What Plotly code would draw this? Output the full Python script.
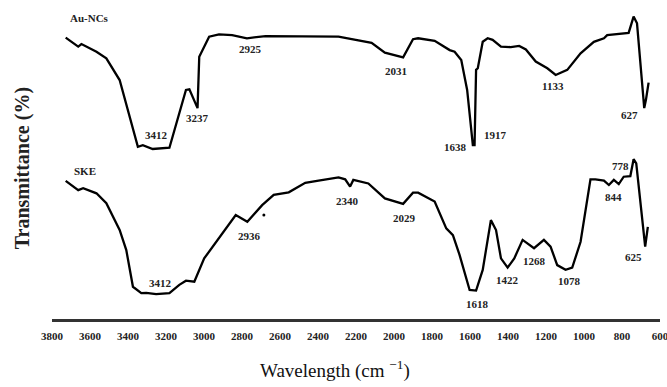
import plotly.graph_objects as go

# Au-NCs spectrum (wavenumber cm-1, transmittance arbitrary %)
au_wn = [3728, 3662, 3645, 3566, 3514, 3444, 3348, 3322, 3270, 3182, 3095, 3077, 3034, 3025,
         2973, 2921, 2852, 2774, 2676, 2292, 2118, 2048, 1952, 1900, 1873, 1786, 1707, 1681,
         1646, 1615, 1585, 1576, 1568, 1559, 1533, 1507, 1481, 1437, 1385, 1341, 1306, 1254,
         1193, 1149, 1088, 1018, 948, 895, 878, 765, 739, 721, 683, 674, 660]
au_t = [88.2, 85.4, 86.2, 83.8, 81.7, 74.9, 54.0, 54.5, 53.3, 53.7, 71.8, 72.0, 66.1, 82.2,
        88.5, 89.2, 89.0, 88.0, 88.7, 88.5, 86.6, 83.5, 82.0, 87.7, 88.0, 87.2, 84.3, 83.8,
        81.2, 71.8, 54.5, 54.5, 78.1, 78.6, 86.9, 88.0, 87.5, 85.4, 85.2, 85.6, 84.5, 80.7,
        78.6, 76.5, 78.1, 83.3, 86.9, 88.0, 89.0, 89.7, 94.8, 92.7, 66.1, 68.7, 74.1]

# SKE spectrum
ske_wn = [3728, 3662, 3636, 3566, 3514, 3444, 3409, 3374, 3330, 3304, 3252, 3182, 3130, 3095,
          3051, 2999, 2833, 2772, 2694, 2633, 2554, 2467, 2397, 2292, 2257, 2231, 2214, 2135,
          2048, 1952, 1900, 1873, 1786, 1725, 1690, 1655, 1602, 1568, 1533, 1490, 1463, 1437,
          1402, 1367, 1323, 1263, 1211, 1176, 1141, 1097, 1062, 1018, 966, 940, 895, 869, 843,
          817, 791, 756, 739, 725, 678, 664]
ske_t = [43.3, 40.4, 41.0, 39.4, 36.3, 27.9, 21.6, 10.1, 8.1, 8.2, 7.8, 8.1, 10.7, 12.0,
         11.7, 19.0, 32.6, 30.5, 35.7, 38.9, 39.7, 42.7, 43.4, 44.4, 43.8, 41.5, 43.6, 42.5,
         37.8, 36.1, 39.6, 39.6, 36.8, 28.4, 26.3, 20.1, 9.1, 8.9, 15.4, 31.0, 27.9, 19.0,
         16.1, 19.0, 24.8, 22.2, 24.8, 22.7, 16.9, 15.4, 16.1, 24.2, 43.8, 43.8, 43.4, 42.0, 43.6,
         42.3, 44.6, 44.8, 50.1, 48.8, 22.7, 28.9]

# Peak labels: (text, wn, T)
au_labels = ["3412", "3237", "2925", "2031", "1638", "1917", "1133", "627"]
au_label_wn = [3250, 3036, 2753, 1988, 1674, 1466, 1161, 758]
au_label_t = [57.7, 63.0, 84.6, 77.7, 54.0, 57.7, 73.0, 63.9]

ske_labels = ["3412", "2936", "2340", "2029", "1618", "1422", "1268", "1078", "844", "778", "625"]
ske_label_wn = [3229, 2760, 2243, 1943, 1563, 1402, 1262, 1076, 847, 809, 742]
ske_label_t = [11.2, 26.0, 37.0, 31.8, 4.7, 12.2, 18.3, 11.9, 38.2, 48.0, 19.3]

series_names = ["Au-NCs", "SKE"]
series_name_wn = [3716, 3695]
series_name_t = [94.4, 46.5]

dot_wn = [2685]
dot_t = [32.6]

tick_vals = list(range(3800, 599, -200))

fig = go.Figure()
fig.add_trace(go.Scatter(x=au_wn, y=au_t, mode="lines", line=dict(color="black", width=2.3),
                         name="Au-NCs", showlegend=False))
fig.add_trace(go.Scatter(x=ske_wn, y=ske_t, mode="lines", line=dict(color="black", width=2.3),
                         name="SKE", showlegend=False))
fig.add_trace(go.Scatter(x=dot_wn, y=dot_t, mode="markers", marker=dict(color="black", size=3),
                         showlegend=False))

lab_font = dict(family="Liberation Serif", size=11, color="#222")
for txt, xw, yt in zip(au_labels + ske_labels, au_label_wn + ske_label_wn, au_label_t + ske_label_t):
    fig.add_annotation(x=xw, y=yt, text="<b>%s</b>" % txt, showarrow=False, font=lab_font,
                       xanchor="center", yanchor="middle")
for txt, xw, yt in zip(series_names, series_name_wn, series_name_t):
    fig.add_annotation(x=xw, y=yt, text="<b>%s</b>" % txt, showarrow=False,
                       font=dict(family="Liberation Serif", size=11, color="#222"),
                       xanchor="left", yanchor="middle")

fig.add_annotation(xref="paper", yref="paper", x=-0.049, y=0.473, text="<b>Transmittance (%)</b>",
                   textangle=-90, showarrow=False,
                   font=dict(family="Liberation Serif", size=20, color="#222"),
                   xanchor="center", yanchor="middle")
fig.add_annotation(xref="paper", yref="paper", x=0.465, y=-0.158, text="Wavelength (cm <sup>−1</sup>)",
                   showarrow=False, font=dict(family="Liberation Serif", size=19, color="#111"),
                   xanchor="center", yanchor="middle")

fig.update_layout(
    width=667, height=387,
    margin=dict(l=52, r=7, t=0, b=68),
    plot_bgcolor="white", paper_bgcolor="white",
    xaxis=dict(range=[3800, 600], tickvals=tick_vals,
               ticktext=["<b>%d</b>" % v for v in tick_vals],
               showgrid=False, zeroline=False, automargin=False,
               showline=True, linewidth=3, linecolor="#333", ticks="",
               tickfont=dict(family="Liberation Serif", size=11, color="#222"),
               ticklabelstandoff=5, ticklabeloverflow="allow"),
    yaxis=dict(range=[0, 100], showgrid=False, zeroline=False, showline=False,
               showticklabels=False, ticks=""),
)

fig.write_html("out.html")
